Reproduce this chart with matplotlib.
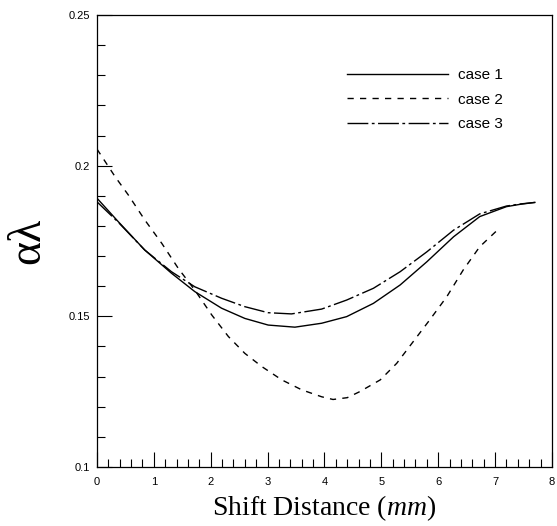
import numpy as np
import matplotlib.pyplot as plt
from matplotlib.ticker import MultipleLocator, FixedLocator

plt.rcParams['mathtext.fontset'] = 'custom'
plt.rcParams['mathtext.it'] = 'Liberation Serif:italic'
plt.rcParams['mathtext.rm'] = 'Liberation Serif'

# values
shift_1 = [0.0, 0.375, 0.84, 1.31, 1.72, 2.19, 2.60, 3.01, 3.48, 3.95, 4.39, 4.86,
           5.33, 5.80, 6.27, 6.73, 7.20, 7.45, 7.70]
case_1 = [0.1892, 0.1814, 0.1720, 0.1643, 0.1582, 0.1527, 0.1493, 0.1471, 0.1464, 0.1477,
          0.1499, 0.1543, 0.1604, 0.1681, 0.1764, 0.1831, 0.1864, 0.1872, 0.1878]

shift_2 = [0.0, 0.32, 0.55, 0.84, 1.14, 1.43, 1.72, 2.02, 2.31, 2.60, 2.90, 3.25, 3.60,
           3.95, 4.15, 4.40, 4.62, 4.98, 5.27, 5.56, 5.85, 6.15, 6.44, 6.73, 7.09]
case_2 = [0.2055, 0.1963, 0.1903, 0.1820, 0.1742, 0.1659, 0.1587, 0.1504, 0.1433, 0.1377,
          0.1333, 0.1289, 0.1256, 0.1233, 0.1224, 0.1230, 0.1250, 0.1289, 0.1344, 0.1416,
          0.1488, 0.1565, 0.1654, 0.1731, 0.1795]

shift_3 = [0.0, 0.375, 0.84, 1.31, 1.72, 2.19, 2.60, 3.01, 3.42, 3.95, 4.39, 4.86,
           5.33, 5.80, 6.27, 6.73, 7.20, 7.45, 7.70]
case_3 = [0.1880, 0.1812, 0.1720, 0.1648, 0.1598, 0.1560, 0.1532, 0.1512, 0.1508, 0.1524,
          0.1554, 0.1593, 0.1648, 0.1714, 0.1786, 0.1840, 0.1866, 0.1873, 0.1878]

y_major = [0.1, 0.15, 0.2, 0.25]
y_labels = ['0.1', '0.15', '0.2', '0.25']

fig = plt.figure(figsize=(5.57, 5.26), dpi=100)
ax = fig.add_axes([0.1741, 0.1122, 0.8169, 0.8593])

ax.plot(shift_1, case_1, color='black', lw=1.0, ls='-', label='case 1')
ax.plot(shift_2, case_2, color='black', lw=1.0, dashes=(4.5, 4.5), label='case 2')
ax.plot(shift_3, case_3, color='black', lw=1.0, dashes=(15, 2.5, 2, 2.5), label='case 3')

ax.set_xlim(0, 8)
ax.set_ylim(0.1, 0.25)

ax.xaxis.set_major_locator(MultipleLocator(1))
ax.xaxis.set_minor_locator(MultipleLocator(0.2))
ax.yaxis.set_major_locator(FixedLocator(y_major))
ax.set_yticklabels(y_labels)
ax.yaxis.set_minor_locator(MultipleLocator(0.01))

ax.tick_params(which='both', direction='in', top=False, right=False, width=0.8,
               labelsize=8, labelfontfamily='Liberation Sans', pad=5)
ax.tick_params(axis='x', which='both', pad=7)
ax.tick_params(which='major', length=10.5)
ax.tick_params(which='minor', length=5.5)
for sp in ax.spines.values():
    sp.set_linewidth(0.9)

ax.set_xlabel('Shift Distance ($\\it{mm}$)', fontsize=20, family='Liberation Serif', labelpad=5)
ax.set_ylabel('αλ', fontsize=33, family=['Liberation Serif', 'DejaVu Serif'], labelpad=14)

ax.legend(loc='upper left', bbox_to_anchor=(0.549, 0.883), frameon=False,
          prop={'family': 'Liberation Sans', 'size': 11},
          handlelength=6.6, handletextpad=0.65, labelspacing=0.7,
          borderpad=0, borderaxespad=0)

fig.savefig('out.png', dpi=100)
